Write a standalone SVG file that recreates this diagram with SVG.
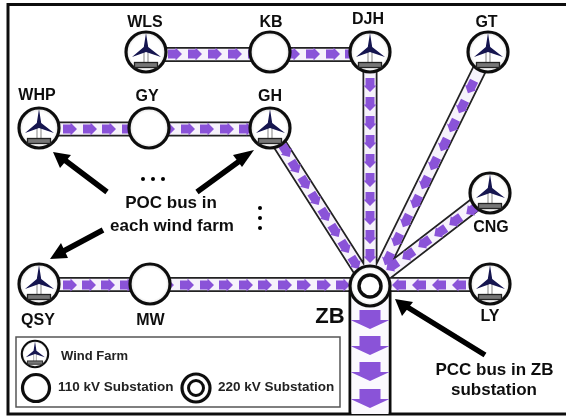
<svg xmlns="http://www.w3.org/2000/svg" xmlns:xlink="http://www.w3.org/1999/xlink" width="566" height="416" viewBox="0 0 566 416">
<style>
text{font-family:"Liberation Sans",Arial,sans-serif;font-weight:700;fill:#111;text-anchor:middle}
.n{font-size:16px}.c{font-size:17px}.l{font-size:13.5px;fill:#222;text-anchor:start}
.d{fill:none;stroke:#222;stroke-width:15}
.i{fill:none;stroke:#f6f2fb;stroke-width:11.500}
.a{fill:#8a52d8}
.p{fill:none;stroke:#000;stroke-width:5.5}
.h{fill:#000}
.o{fill:url(#g);stroke:#111;stroke-width:3.2}
</style>
<defs>
<filter id="s" x="0" y="0" width="100%" height="100%"><feGaussianBlur stdDeviation="0.45"/></filter>
<radialGradient id="g"><stop offset="0.8" stop-color="#fff"/><stop offset="1" stop-color="#ddd"/></radialGradient>
<polygon id="r" class="a" points="-7,-4.500 0.500,-4.500 0.500,-6.500 7,0 0.500,6.500 0.500,4.500 -7,4.500"/>
<polygon id="b" class="a" points="-10.500,-19 10.500,-19 10.500,-9 19.500,-9 0,0 -19.500,-9 -10.500,-9"/>
<g id="t">
<circle class="o" r="20"/>
<path d="M-2,-3V11M2,-3V11" stroke="#999" stroke-width="1.200" fill="none"/>
<rect x="-11.500" y="10.500" width="23" height="5" fill="#777" stroke="#222" stroke-width="1.300"/>
<polygon points="0,-19 2.200,-5 15,5 0,0 -14,5 -2.200,-5" fill="#12124f"/>
</g>
</defs>
<g id="diagram" filter="url(#s)">
<rect x="0" y="0" width="566" height="416" fill="#fff"/>
<rect x="8" y="4.500" width="580" height="409.500" fill="#fff" stroke="#111" stroke-width="3"/>
<g id="connectors">
<path id="bands" class="d" d="M146,54.500H370M370,52V286M39,129H270L370,286M39,284.500H490M488,52L374,284M490,193L372,284"/>
<path class="i" d="M146,54.500H370M370,52V286M39,129H270L370,286M39,284.500H490M488,52L374,284M490,193L372,284"/>
<path d="M350,290V414M390,290V414" stroke="#111" stroke-width="3" fill="none"/>
<rect x="351.500" y="295" width="37" height="119" fill="#fbf9fe"/>
<g id="flow-top">
<use xlink:href="#r" transform="translate(175,54)"/><use xlink:href="#r" transform="translate(195,54)"/><use xlink:href="#r" transform="translate(215,54)"/><use xlink:href="#r" transform="translate(235,54)"/><use xlink:href="#r" transform="translate(255,54)"/>
<use xlink:href="#r" transform="translate(293,54)"/><use xlink:href="#r" transform="translate(313,54)"/><use xlink:href="#r" transform="translate(333,54)"/><use xlink:href="#r" transform="translate(352,54)"/>
</g>
<g id="flow-mid">
<use xlink:href="#r" transform="translate(70,129)"/><use xlink:href="#r" transform="translate(90,129)"/><use xlink:href="#r" transform="translate(109,129)"/><use xlink:href="#r" transform="translate(129,129)"/>
<use xlink:href="#r" transform="translate(168,129)"/><use xlink:href="#r" transform="translate(188,129)"/><use xlink:href="#r" transform="translate(207,129)"/><use xlink:href="#r" transform="translate(227,129)"/><use xlink:href="#r" transform="translate(246,129)"/>
</g>
<g id="flow-bottom">
<use xlink:href="#r" transform="translate(70,285)"/><use xlink:href="#r" transform="translate(89,285)"/><use xlink:href="#r" transform="translate(108,285)"/><use xlink:href="#r" transform="translate(127,285)"/>
<use xlink:href="#r" transform="translate(167,285)"/><use xlink:href="#r" transform="translate(187,285)"/><use xlink:href="#r" transform="translate(207,285)"/><use xlink:href="#r" transform="translate(226,285)"/><use xlink:href="#r" transform="translate(246,285)"/><use xlink:href="#r" transform="translate(265,285)"/><use xlink:href="#r" transform="translate(285,285)"/><use xlink:href="#r" transform="translate(304,285)"/><use xlink:href="#r" transform="translate(324,285)"/><use xlink:href="#r" transform="translate(343,285)"/>
</g>
<g id="flow-ly">
<use xlink:href="#r" transform="translate(459,285) rotate(180)"/><use xlink:href="#r" transform="translate(439,285) rotate(180)"/><use xlink:href="#r" transform="translate(419,285) rotate(180)"/><use xlink:href="#r" transform="translate(399,285) rotate(180)"/>
</g>
<g id="flow-djh">
<use xlink:href="#r" transform="translate(370,85) rotate(90)"/><use xlink:href="#r" transform="translate(370,104) rotate(90)"/><use xlink:href="#r" transform="translate(370,123) rotate(90)"/><use xlink:href="#r" transform="translate(370,142) rotate(90)"/><use xlink:href="#r" transform="translate(370,161) rotate(90)"/><use xlink:href="#r" transform="translate(370,180) rotate(90)"/><use xlink:href="#r" transform="translate(370,199) rotate(90)"/><use xlink:href="#r" transform="translate(370,218) rotate(90)"/><use xlink:href="#r" transform="translate(370,237) rotate(90)"/><use xlink:href="#r" transform="translate(370,256) rotate(90)"/>
</g>
<g id="flow-gt">
<use xlink:href="#r" transform="translate(471,87) rotate(116)"/><use xlink:href="#r" transform="translate(462,107) rotate(116)"/><use xlink:href="#r" transform="translate(453,126) rotate(116)"/><use xlink:href="#r" transform="translate(444,145) rotate(116)"/><use xlink:href="#r" transform="translate(434,164) rotate(116)"/><use xlink:href="#r" transform="translate(425,183) rotate(116)"/><use xlink:href="#r" transform="translate(416,202) rotate(116)"/><use xlink:href="#r" transform="translate(406,221) rotate(116)"/><use xlink:href="#r" transform="translate(397,240) rotate(116)"/><use xlink:href="#r" transform="translate(388,259) rotate(116)"/>
</g>
<g id="flow-cng">
<use xlink:href="#r" transform="translate(472,210) rotate(145)"/><use xlink:href="#r" transform="translate(455,221) rotate(145)"/><use xlink:href="#r" transform="translate(440,232) rotate(145)"/><use xlink:href="#r" transform="translate(424,243) rotate(145)"/><use xlink:href="#r" transform="translate(408,255) rotate(145)"/><use xlink:href="#r" transform="translate(392,266) rotate(145)"/>
</g>
<g id="flow-gh">
<use xlink:href="#r" transform="translate(286,151) rotate(58)"/><use xlink:href="#r" transform="translate(295,167) rotate(58)"/><use xlink:href="#r" transform="translate(305,183) rotate(58)"/><use xlink:href="#r" transform="translate(315,199) rotate(58)"/><use xlink:href="#r" transform="translate(325,215) rotate(58)"/><use xlink:href="#r" transform="translate(335,231) rotate(58)"/><use xlink:href="#r" transform="translate(345,247) rotate(58)"/><use xlink:href="#r" transform="translate(355,263) rotate(58)"/>
</g>
<g id="flow-out">
<use xlink:href="#b" transform="translate(370,329)"/><use xlink:href="#b" transform="translate(370,355)"/><use xlink:href="#b" transform="translate(370,381)"/><use xlink:href="#b" transform="translate(370,408)"/>
</g>
</g>
<g id="WLS"><use xlink:href="#t" x="146" y="52"/><text class="n" x="145" y="27">WLS</text></g>
<g id="KB"><circle class="o" cx="270" cy="52" r="20"/><text class="n" x="271" y="27">KB</text></g>
<g id="DJH"><use xlink:href="#t" x="370" y="52"/><text class="n" x="368" y="24">DJH</text></g>
<g id="GT"><use xlink:href="#t" x="488" y="52"/><text class="n" x="486.500" y="27">GT</text></g>
<g id="WHP"><use xlink:href="#t" x="39" y="128"/><text class="n" x="37" y="100">WHP</text></g>
<g id="GY"><circle class="o" cx="149" cy="128" r="20"/><text class="n" x="147" y="101">GY</text></g>
<g id="GH"><use xlink:href="#t" x="270" y="128"/><text class="n" x="270" y="101">GH</text></g>
<g id="CNG"><use xlink:href="#t" x="490" y="193"/><text class="n" x="491" y="232">CNG</text></g>
<g id="LY"><use xlink:href="#t" x="490" y="284"/><text class="n" x="490" y="321">LY</text></g>
<g id="QSY"><use xlink:href="#t" x="39" y="284"/><text class="n" x="38" y="325">QSY</text></g>
<g id="MW"><circle class="o" cx="150" cy="284" r="20"/><text class="n" x="150.500" y="325">MW</text></g>
<g id="ZB"><circle class="o" cx="370" cy="286" r="20"/><circle cx="370" cy="286" r="11" fill="#fff" stroke="#111" stroke-width="3.500"/><text x="330" y="323" font-size="22">ZB</text></g>
<g id="callouts">
<path class="p" d="M107,192L62,158M197,192L245,157M103,230L60,253M485,355L404,305"/>
<polygon class="h" points="53,152 71,155 60,168"/>
<polygon class="h" points="254,150 242,167 233,155"/>
<polygon class="h" points="50,259 61,243 68,258"/>
<polygon class="h" points="395,299 413,302 402,316"/>
<text class="c" x="171" y="208">POC bus in</text>
<text class="c" x="172" y="231">each wind farm</text>
<text class="c" x="494.500" y="375">PCC bus in ZB</text>
<text class="c" x="494" y="395">substation</text>
<circle cx="143" cy="179" r="2"/><circle cx="153" cy="179" r="2"/><circle cx="163" cy="179" r="2"/>
<circle cx="260" cy="208" r="2"/><circle cx="260" cy="218" r="2"/><circle cx="260" cy="228" r="2"/>
</g>
<g id="legend">
<rect x="16" y="337" width="324" height="70" fill="#fff" stroke="#555" stroke-width="1.500"/>
<use xlink:href="#t" transform="translate(35,354) scale(.66)"/>
<text class="l" x="61" y="360" style="font-size:13px">Wind Farm</text>
<circle class="o" cx="36" cy="388" r="13.500"/>
<text class="l" x="58" y="391">110 kV Substation</text>
<circle class="o" cx="196" cy="388" r="14"/><circle cx="196" cy="388" r="7.500" fill="#fff" stroke="#111" stroke-width="3"/>
<text class="l" x="218" y="391">220 kV Substation</text>
</g>
</g>
</svg>
